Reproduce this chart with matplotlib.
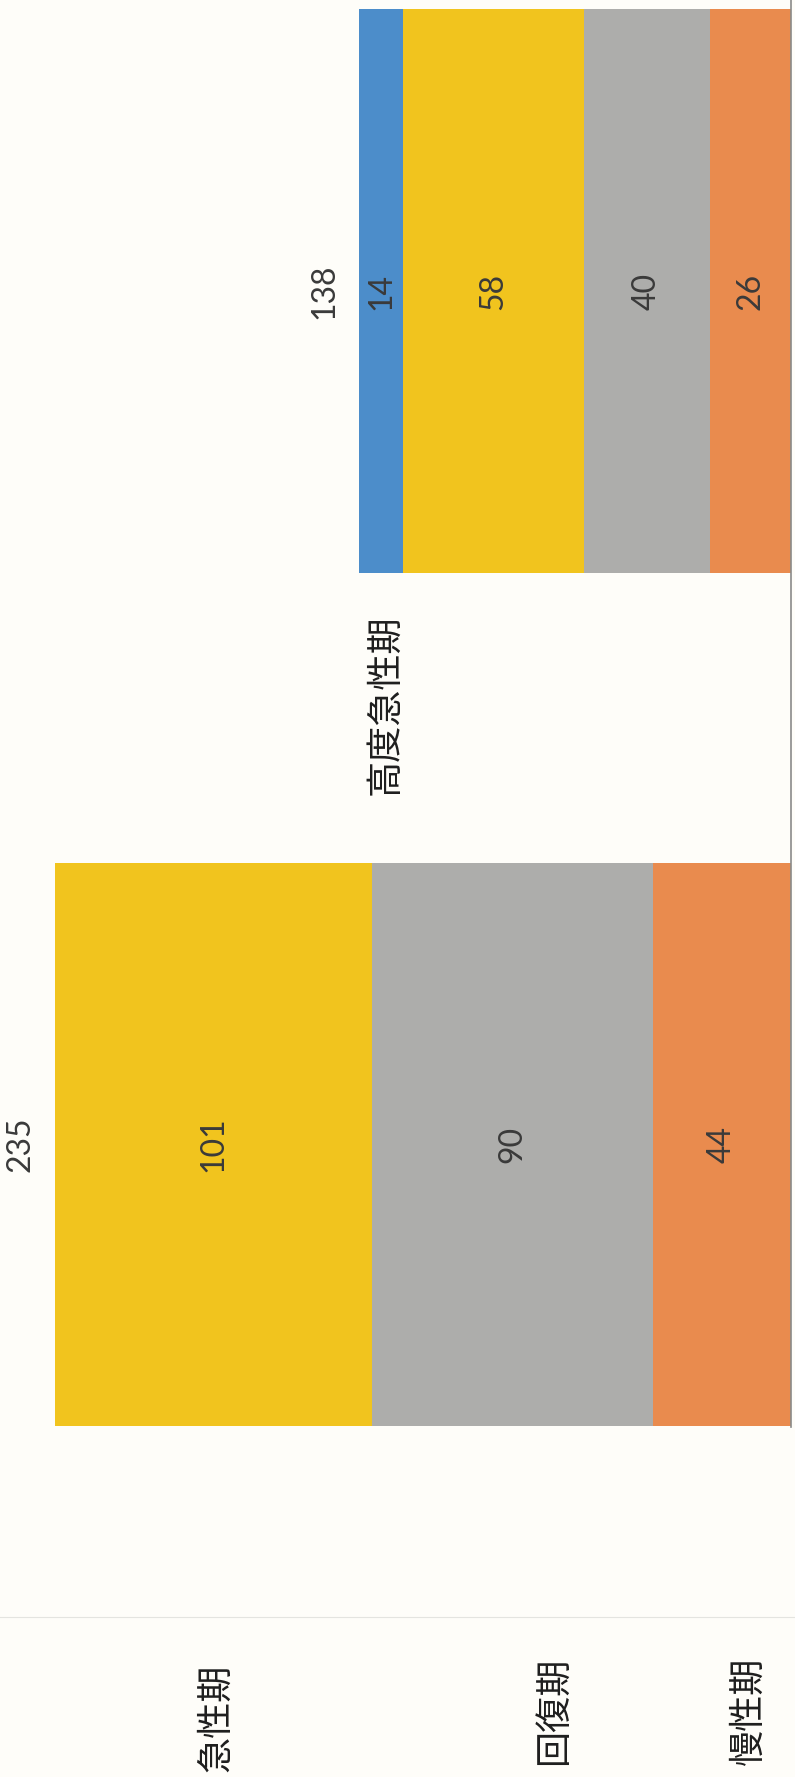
import numpy as np
import matplotlib.pyplot as plt

plt.rcParams['font.family'] = ['Noto Sans CJK JP', 'DejaVu Sans']

# two stacked bars, drawn sideways like the scanned page
bars = [0, 1]
series = ['慢性期', '回復期', '急性期', '高度急性期']
mansei = [26, 44]
kaifuku = [40, 90]
kyusei = [58, 101]
kodo = [14, 0]
colors = ['#E98B4E', '#ADADAB', '#F1C41E', '#4C8DCA']

# where the series names sit (value, bar position)
name_pos = {'高度急性期': (129.5, 0.485),
            '急性期': (183.5, 1.672),
            '回復期': (75.5, 1.664),
            '慢性期': (13.5, 1.664)}

bg = '#FEFDF9'
fig = plt.figure(figsize=(7.95, 17.77), dpi=100, facecolor=bg)
ax = fig.add_axes([0, 0, 1, 1])
ax.set_facecolor(bg)

left = np.zeros(len(bars))
for vals, c in zip([mansei, kaifuku, kyusei, kodo], colors):
    v = np.array(vals, dtype=float)
    ax.barh(bars, v, left=left, height=0.66, color=c, edgecolor='none')
    for i in range(len(bars)):
        if v[i] > 0:
            ax.text(left[i] + v[i] / 2, bars[i], str(int(v[i])), rotation=90,
                    ha='center', va='center', fontsize=23, family='Lato',
                    color='#3a3a3a')
    left += v

# totals above the bars
for i in range(len(bars)):
    ax.text(left[i] + 11, bars[i], str(int(left[i])), rotation=90,
            ha='center', va='center', fontsize=23, family='Lato', color='#3a3a3a')

for name, (xv, yv) in name_pos.items():
    ax.text(xv, yv, name, rotation=90, ha='center', va='center',
            fontsize=26, color='#1e1e1e')

# baseline and faint fold line
ax.axvline(0, ymin=0.197, ymax=1, color='#8a8a8a', lw=1.2)
ax.axhline(1.553, color='#e4e4e0', lw=0.8)

ax.set_xlim(252.7, -1.28)
ax.set_ylim(1.741, -0.341)
ax.axis('off')

fig.savefig('out.png', dpi=100, facecolor=bg)
